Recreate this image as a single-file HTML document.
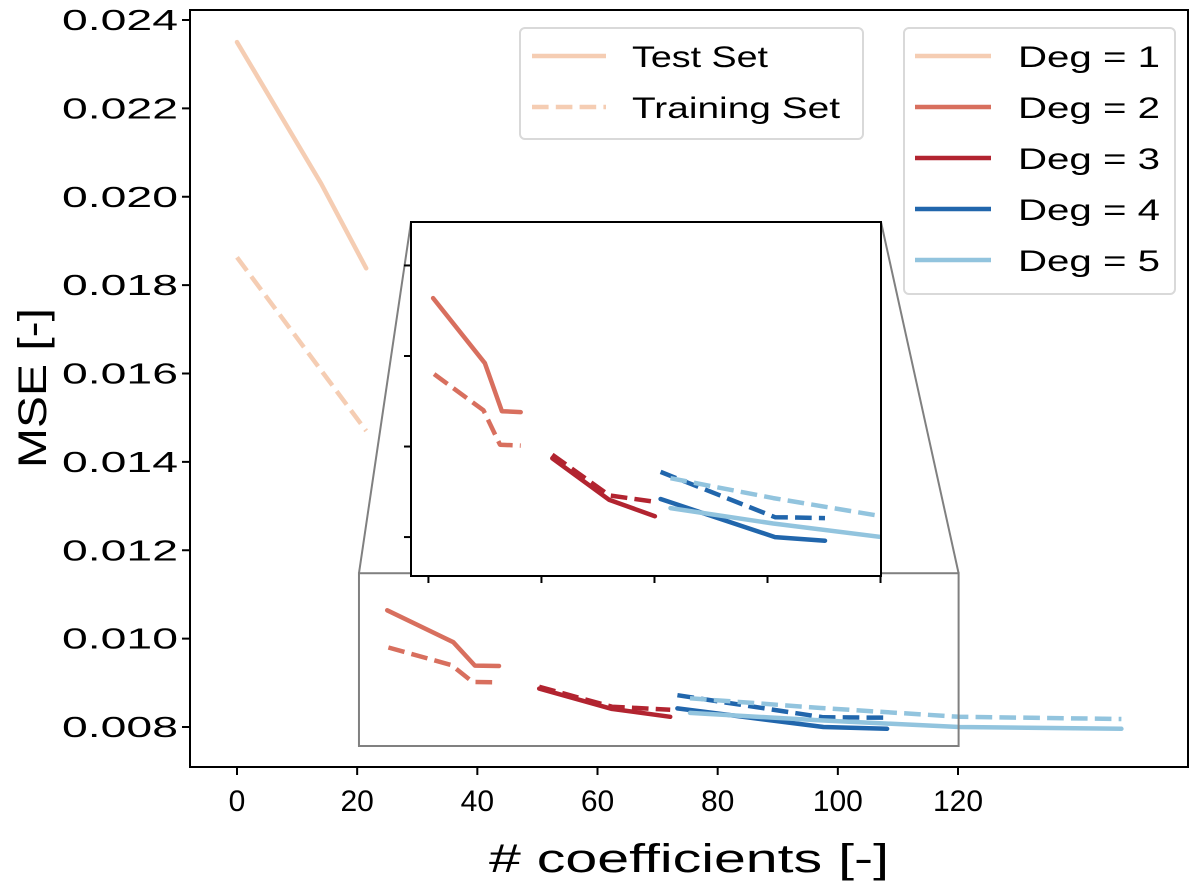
<!DOCTYPE html>
<html><head><meta charset="utf-8"><style>
html,body{margin:0;padding:0;background:#fff;}
svg{display:block;font-family:"Liberation Sans","DejaVu Sans",sans-serif;}
</style></head><body>
<svg id="chart" width="1200" height="883" viewBox="0 0 1200 883" xmlns="http://www.w3.org/2000/svg"></svg>
<script>
// ---- data ----
const xTicks = [0, 20, 40, 60, 80, 100, 120];
const yTicks = [0.008, 0.010, 0.012, 0.014, 0.016, 0.018, 0.020, 0.022, 0.024];
const yTickLabels = ["0.008","0.010","0.012","0.014","0.016","0.018","0.020","0.022","0.024"];
const insetXTicks = [24, 48, 72, 96, 120];
const insetYTicks = [0.008, 0.009, 0.010, 0.011];
const degLabels = ["Deg = 1","Deg = 2","Deg = 3","Deg = 4","Deg = 5"];
const deg1X = [0, 14, 21.5];
const deg1Test = [0.0235, 0.0203, 0.01838];
const deg1TrainX = [0, 21.5];
const deg1Train = [0.01863, 0.0147];
const deg2X = [25.0, 36.0, 39.6, 43.6];
const deg2Test = [0.01064, 0.00992, 0.00939, 0.00938];
const deg2TrainX = [25.2, 35.7, 39.2, 43.6];
const deg2Train = [0.00980, 0.00940, 0.00902, 0.00901];
const deg3X = [50.3, 62.4, 72.1];
const deg3Test = [0.00887, 0.00841, 0.00823];
const deg3Train = [0.00891, 0.00846, 0.00839];
const deg4X = [73.3, 97.6, 108.2];
const deg4Test = [0.00842, 0.00800, 0.00796];
const deg4Train = [0.00872, 0.00822, 0.00821];
const deg5X = [75.4, 97.2, 120.2, 147.2];
const deg5Test = [0.00832, 0.00815, 0.00800, 0.00796];
const deg5Train = [0.00865, 0.00843, 0.00823, 0.00818];

const colors = ["#f5cdb3","#d86f5e","#b22430","#2166ac","#92c4de"];
const series = [
  {deg:0, x:deg1X, y:deg1Test, dash:false, name:"deg1-test-line"},
  {deg:0, x:deg1TrainX, y:deg1Train, dash:true, name:"deg1-train-line"},
  {deg:1, x:deg2X, y:deg2Test, dash:false, name:"deg2-test-line"},
  {deg:1, x:deg2TrainX, y:deg2Train, dash:true, name:"deg2-train-line"},
  {deg:2, x:deg3X, y:deg3Test, dash:false, name:"deg3-test-line"},
  {deg:2, x:deg3X, y:deg3Train, dash:true, name:"deg3-train-line"},
  {deg:3, x:deg4X, y:deg4Test, dash:false, name:"deg4-test-line"},
  {deg:3, x:deg4X, y:deg4Train, dash:true, name:"deg4-train-line"},
  {deg:4, x:deg5X, y:deg5Test, dash:false, name:"deg5-test-line"},
  {deg:4, x:deg5X, y:deg5Train, dash:true, name:"deg5-train-line"}
];

const NS = "http://www.w3.org/2000/svg";
const svg = document.getElementById("chart");
function mk(tag, attrs, parent){ const e=document.createElementNS(NS,tag); for(const k in attrs) e.setAttribute(k,attrs[k]); (parent||svg).appendChild(e); return e; }

const P = {l:190, r:1188, t:10, b:767};
const sx = v => 237 + (v - 0) * (958 - 237) / 120;
const sy = v => 727 - (v - 0.008) / 0.016 * (727 - 20);
const bx0 = 20.3, bx1 = 120.1, by0 = 0.00757, by1 = 0.01148;
const I = {l:411, r:881, t:222, b:576};
const ix = v => I.l + (v - bx0) / (bx1 - bx0) * (I.r - I.l);
const iy = v => I.b - (v - by0) / (by1 - by0) * (I.b - I.t);

mk("defs",{}).innerHTML = '<clipPath id="mainclip"><rect x="190" y="10" width="998" height="757"/></clipPath><clipPath id="insetclip"><rect x="411" y="222" width="470" height="354"/></clipPath>';

function drawSeries(g, fx, fy, lw, prefix){
  series.forEach(s=>{
    const d = s.x.map((v,i)=>(i?"L":"M")+fx(v).toFixed(1)+","+fy(s.y[i]).toFixed(1)).join(" ");
    const p = mk("path",{d:d, fill:"none", stroke:colors[s.deg], "stroke-width":lw, "stroke-linecap":"round", "stroke-linejoin":"round"}, g);
    if(s.dash){ p.setAttribute("stroke-dasharray", (lw*3.7)+","+(lw*1.6)); p.setAttribute("stroke-linecap","butt"); }
    
    
  });
}

const frame = mk("rect",{x:P.l,y:P.t,width:P.r-P.l,height:P.b-P.t,fill:"#fff",stroke:"none"});
 

const mainG = mk("g",{"clip-path":"url(#mainclip)"});
 
drawSeries(mainG, sx, sy, 4.5, "main-");

const zb = mk("rect",{x:sx(bx0),y:sy(by1),width:sx(bx1)-sx(bx0),height:sy(by0)-sy(by1),fill:"none",stroke:"#808080","stroke-width":2});
 
[[sx(bx0),sy(by1),I.l,I.t],[sx(bx1),sy(by1),I.r,I.t]].forEach((c,i)=>{
  const l = mk("line",{x1:c[0],y1:c[1],x2:c[2],y2:c[3],stroke:"#808080","stroke-width":2});
  
  
});

const ibg = mk("rect",{x:I.l,y:I.t,width:I.r-I.l,height:I.b-I.t,fill:"#fff"});
 
const insetG = mk("g",{"clip-path":"url(#insetclip)"});
 
drawSeries(insetG, ix, iy, 4.5, "inset-");
const ifr = mk("rect",{x:I.l,y:I.t,width:I.r-I.l,height:I.b-I.t,fill:"none",stroke:"#000","stroke-width":2});
 
insetXTicks.forEach(v=>{
  const t = mk("line",{x1:ix(v),x2:ix(v),y1:I.b,y2:I.b+7,stroke:"#000","stroke-width":2});
   
});
insetYTicks.forEach(v=>{
  const t = mk("line",{x1:I.l-7,x2:I.l,y1:iy(v),y2:iy(v),stroke:"#000","stroke-width":2});
   
});

const mf = mk("rect",{x:P.l,y:P.t,width:P.r-P.l,height:P.b-P.t,fill:"none",stroke:"#000","stroke-width":2});
 
xTicks.forEach(v=>{
  const t = mk("line",{x1:sx(v),x2:sx(v),y1:P.b,y2:P.b+8,stroke:"#000","stroke-width":2});
   
  const tx = mk("text",{x:sx(v),y:P.b+44,"font-size":30,"text-anchor":"middle",fill:"#000"});
  tx.textContent = String(v);
   
});
yTicks.forEach((v,i)=>{
  const t = mk("line",{x1:P.l-8,x2:P.l,y1:sy(v),y2:sy(v),stroke:"#000","stroke-width":2});
   
  const tx = mk("text",{x:P.l-12,y:sy(v)+10,"font-size":29,"text-anchor":"end",fill:"#000",textLength:116,lengthAdjust:"spacingAndGlyphs"});
  tx.textContent = yTickLabels[i];
   
});
const xl = mk("text",{x:689,y:872,"font-size":40,"text-anchor":"middle",fill:"#000",textLength:400,lengthAdjust:"spacingAndGlyphs"});
xl.textContent = "# coefficients [-]";
 
const yl = mk("text",{x:0,y:0,"font-size":40,"text-anchor":"middle",fill:"#000",transform:"translate(46,388) rotate(-90)",textLength:160,lengthAdjust:"spacingAndGlyphs"});
yl.textContent = "MSE [-]";
 

const lg1 = mk("g",{});
 
mk("rect",{x:520,y:28,width:343,height:111,rx:5,fill:"#fff","fill-opacity":0.8,stroke:"#d9d9d9","stroke-width":2},lg1);
[["Test Set",false,56,136],["Training Set",true,107,208]].forEach(e=>{
  const ln = mk("line",{x1:532,x2:606,y1:e[2],y2:e[2],stroke:colors[0],"stroke-width":4.5},lg1);
  if(e[1]) ln.setAttribute("stroke-dasharray","16.6,7.2");
   
  const t = mk("text",{x:632,y:e[2]+11,"font-size":30,fill:"#000",textLength:e[3],lengthAdjust:"spacingAndGlyphs"},lg1);
  t.textContent = e[0];
   
});
const lg2 = mk("g",{});
 
mk("rect",{x:904,y:28,width:271,height:266,rx:5,fill:"#fff","fill-opacity":0.8,stroke:"#d9d9d9","stroke-width":2},lg2);
degLabels.forEach((lab,i)=>{
  const y = 56 + i*51;
  const ln = mk("line",{x1:915,x2:991,y1:y,y2:y,stroke:colors[i],"stroke-width":4.5},lg2);
   
  const t = mk("text",{x:1018,y:y+11,"font-size":30,fill:"#000",textLength:142,lengthAdjust:"spacingAndGlyphs"},lg2);
  t.textContent = lab;
   
});
</script>
</body></html>
